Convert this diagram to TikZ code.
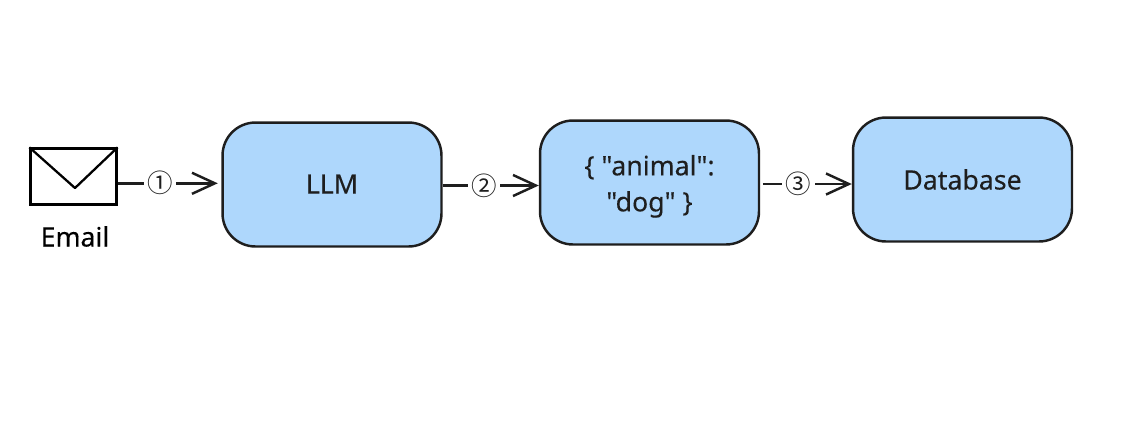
\documentclass[tikz,border=0pt]{standalone}
\usepackage{fontspec}
\setmainfont{Noto Sans}
\newfontfamily\cajafont[FakeBold=0.25]{Noto Sans}
\newfontfamily\symfont{Noto Sans CJK JP}
\usepackage{tikz}
\usetikzlibrary{arrows.meta, positioning}
\definecolor{Celeste}{RGB}{174, 215, 252}
\definecolor{Tinta}{RGB}{30, 30, 30}
\newcommand{\bajar}[1]{\raisebox{-2.2pt}[\height][\depth]{#1}}

\begin{document}
\begin{tikzpicture}[
        x=0.02cm, y=-0.02cm,
        block/.style={rectangle, rounded corners=0.66cm, draw=Tinta, fill=Celeste, line width=1.4pt, minimum width=4.38cm, minimum height=2.48cm, align=center, font=\cajafont\fontsize{15.2}{20.5}\selectfont, text=Tinta},
        mail/.style={rectangle, draw=black, fill=white, line width=1.3pt, minimum width=1.72cm, minimum height=1.12cm, inner sep=0pt},
        step label/.style={fill=white, inner sep=2pt, font=\symfont\fontsize{14.5}{16}\selectfont, text=Tinta},
        arrow/.style={line width=1.4pt, draw=Tinta, -{Straight Barb[length=13pt, width=12pt, line width=1.4pt]}}
    ]
        \useasboundingbox (0, 0) rectangle (1130, 424);
        % sobre
        \node[mail] (email) at (73.5, 176.5) {};
        \coordinate (pico) at (75, 188);
        \draw[black, line width=1.3pt, line join=round] (email.north west) -- (pico) -- (email.north east);
        \node[font=\cajafont\fontsize{15.2}{18}\selectfont, text=black] (email_txt) at (75, 236.5) {Email};

        % cajas
        \node[block] (llm) at (332, 184.5) {\raisebox{0.5pt}{LLM}};
        \node[block] (json) at (649.5, 182.5) {\bajar{\{ "animal":}\\\bajar{"dog" \}}};
        \node[block] (db) at (962.5, 179.5) {Database};

        % flechas
        \draw[arrow, shorten >=2pt] (email.east |- 0, 183.3) -- node[step label, pos=0.41] (paso1) {①} (llm.west |- 0, 183.3);
        \draw[arrow] (llm.east |- 0, 185.5) -- node[step label, pos=0.43] (paso2) {②} (json.west |- 0, 185.5);
        \draw[arrow, shorten <=1.5pt] (json.east |- 0, 184) -- node[step label, pos=0.42] (paso3) {③} (db.west |- 0, 184);
    \end{tikzpicture}
\end{document}
